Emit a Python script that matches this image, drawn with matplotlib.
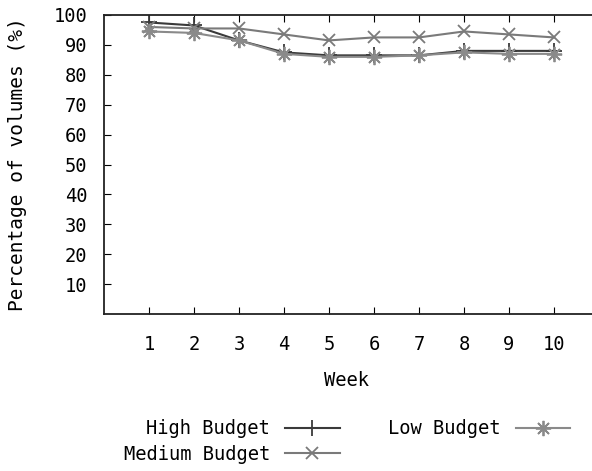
import matplotlib
matplotlib.use("Agg")
import matplotlib.pyplot as plt

plt.rcParams["font.family"] = "DejaVu Sans Mono"
plt.rcParams["font.size"] = 13.5

weeks = [1, 2, 3, 4, 5, 6, 7, 8, 9, 10]
high_budget = [97.5, 96.5, 91.5, 87.5, 86.5, 86.5, 86.5, 88, 88, 88]
medium_budget = [96, 95.5, 95.5, 93.5, 91.5, 92.5, 92.5, 94.5, 93.5, 92.5]
low_budget = [94.5, 94, 91.5, 87, 86, 86, 86.5, 87.5, 87, 87]
y_ticks = [10, 20, 30, 40, 50, 60, 70, 80, 90, 100]

fig = plt.figure(figsize=(5.92, 4.71), dpi=100)
ax = fig.add_axes([104 / 592, 1 - 314 / 471, 495 / 592, 299 / 471])

ax.plot(weeks, high_budget, color="#3a3a3a", lw=1.5, marker="+",
        markersize=11, markeredgewidth=1.3, label="High Budget")
ax.plot(weeks, medium_budget, color="#7a7a7a", lw=1.5, marker="x",
        markersize=9, markeredgewidth=1.3, label="Medium Budget")
ax.plot(weeks, low_budget, color="#8a8a8a", lw=1.5, marker=(8, 2, 0),
        markersize=11, markeredgewidth=1.3, label="Low Budget")

ax.set_xlim(0, 11)
ax.set_ylim(0, 100)
ax.set_xticks(weeks)
ax.set_yticks(y_ticks)
ax.tick_params(axis="x", direction="in", length=5, pad=15, top=True)
ax.tick_params(axis="y", direction="in", length=5, pad=12)
for s in ax.spines.values():
    s.set_linewidth(1.3)
    s.set_color("#222222")

fig.text(347 / 592, 1 - 380 / 471, "Week", ha="center", va="center")
fig.text(18 / 592, 1 - 164 / 471, "Percentage of volumes (%)",
         ha="center", va="center", rotation=90, fontsize=14)

fig.legend(loc="upper center", bbox_to_anchor=(347 / 592, 1 - 406 / 471),
           ncol=2, markerfirst=False, frameon=False, handlelength=2.9,
           handletextpad=0.8, columnspacing=2.6, labelspacing=0.35,
           borderpad=0.2)

fig.savefig("out.png", dpi=100)
